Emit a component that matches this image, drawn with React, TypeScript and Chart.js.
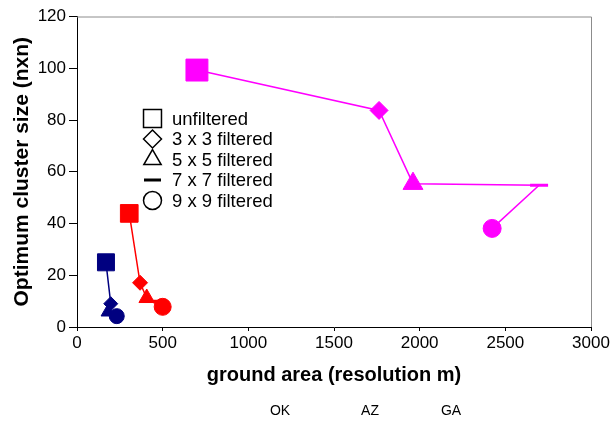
import React, { useEffect, useRef } from 'react';
import { Chart, registerables } from 'chart.js';
import { drawPoint } from 'chart.js/helpers';

Chart.register(...registerables);

// ---- data ----
const seriesNames = ['OK', 'AZ', 'GA'];
const seriesColors = ['#000080', '#FF0000', '#FF00FF'];
const filterLabels = ['unfiltered', '3 x 3 filtered', '5 x 5 filtered', '7 x 7 filtered', '9 x 9 filtered'];
const filterStyles = ['rect', 'rectRot', 'triangle', 'line', 'circle'];

const okX = [169, 197, 181, 205, 232];
const okY = [25, 9, 5.8, 5, 4.2];
const azX = [305, 368, 407, 430, 500];
const azY = [43.9, 17.1, 11.2, 10, 7.8];
const gaX = [700, 1763, 1961, 2697, 2423];
const gaY = [99.3, 83.7, 55.4, 54.8, 38.1];

const xTickValues = [0, 500, 1000, 1500, 2000, 2500, 3000];
const yTickValues = [0, 20, 40, 60, 80, 100, 120];

const xTitle = 'ground area (resolution m)';
const yTitle = 'Optimum cluster size (nxn)';

// marker sizes (style)
const okRadius = [12, 7, 8, 7, 7.5];
const azRadius = [12.5, 7.5, 9, 8, 8.5];
const gaRadius = [15.5, 9, 11.5, 9, 9];

const FONT = "'Liberation Sans', Arial, Helvetica, sans-serif";

function makeDataset(i: number, xs: number[], ys: number[], radii: number[]) {
  return {
    label: seriesNames[i],
    data: xs.map((x, k) => ({ x, y: ys[k] })),
    borderColor: seriesColors[i],
    backgroundColor: seriesColors[i],
    pointBackgroundColor: seriesColors[i],
    pointBorderColor: seriesColors[i],
    pointStyle: filterStyles as any,
    pointRadius: radii,
    pointHoverRadius: radii,
    pointBorderWidth: filterStyles.map((s) => (s === 'line' ? 3 : 1)),
    borderWidth: 1.5,
    showLine: true,
    tension: 0,
    fill: false,
  };
}

const decorPlugin = {
  id: 'decor',
  afterDraw(chart: any) {
    const { ctx, chartArea } = chart;
    const { top, right, left, bottom } = chartArea;
    ctx.save();
    // top / right frame
    ctx.strokeStyle = '#8c8c8c';
    ctx.lineWidth = 1;
    ctx.beginPath();
    ctx.moveTo(left, top + 0.5);
    ctx.lineTo(right + 0.5, top + 0.5);
    ctx.lineTo(right + 0.5, bottom);
    ctx.stroke();

    // in-plot legend for filter styles
    const mx = left + 75.5;
    const tx = left + 95;
    const y0 = top + 102;
    const dy = 20.5;
    const legendRadius = [12.7, 9, 10, 8.5, 9];
    ctx.font = `18.5px ${FONT}`;
    ctx.textBaseline = 'middle';
    ctx.textAlign = 'left';
    filterLabels.forEach((lab, i) => {
      const y = y0 + i * dy;
      ctx.fillStyle = '#ffffff';
      ctx.strokeStyle = '#000000';
      ctx.lineWidth = filterStyles[i] === 'line' ? 3 : 1.5;
      drawPoint(ctx, { pointStyle: filterStyles[i], radius: legendRadius[i], rotation: 0, borderWidth: ctx.lineWidth } as any, mx, y);
      ctx.fillStyle = '#000000';
      ctx.fillText(lab, tx, y + 1);
    });

    // series names below the axis title
    const nameX = [280, 370, 451];
    ctx.font = `14px ${FONT}`;
    ctx.textAlign = 'center';
    ctx.fillStyle = '#000000';
    seriesNames.forEach((n, i) => {
      ctx.fillText(n, nameX[i], 411);
    });
    ctx.restore();
  },
};

export default function App() {
  const ref = useRef<HTMLCanvasElement | null>(null);
  useEffect(() => {
    document.body.style.margin = '0';
    if (!ref.current) return;
    const chart = new Chart(ref.current, {
      type: 'scatter',
      data: {
        datasets: [
          makeDataset(0, okX, okY, okRadius),
          makeDataset(1, azX, azY, azRadius),
          makeDataset(2, gaX, gaY, gaRadius),
        ] as any,
      },
      options: {
        animation: false,
        responsive: true,
        maintainAspectRatio: false,
        layout: { padding: { left: 0, right: 21, top: 16, bottom: 30 } },
        plugins: {
          legend: { display: false },
          tooltip: { enabled: false },
        },
        scales: {
          x: {
            type: 'linear',
            min: 0,
            max: 3000,
            afterBuildTicks: (scale: any) => {
              scale.ticks = xTickValues.map((v) => ({ value: v }));
            },
            afterFit: (scale: any) => {
              scale.height = 64;
            },
            border: { display: true, color: '#000000', width: 1 },
            grid: { drawOnChartArea: false, drawTicks: true, tickLength: 4, color: '#000000' },
            ticks: {
              color: '#000000',
              padding: 2,
              maxRotation: 0,
              autoSkip: false,
              callback: (v: any) => String(v),
              font: { family: FONT, size: 17 },
            },
            title: {
              display: true,
              text: xTitle,
              color: '#000000',
              font: { family: FONT, size: 20, weight: 'bold' },
              padding: { top: 0, bottom: 4 },
            },
          },
          y: {
            type: 'linear',
            min: 0,
            max: 120,
            afterBuildTicks: (scale: any) => {
              scale.ticks = yTickValues.map((v) => ({ value: v }));
            },
            afterFit: (scale: any) => {
              scale.width = 77;
            },
            border: { display: true, color: '#000000', width: 1 },
            grid: { drawOnChartArea: false, drawTicks: true, tickLength: 8, color: '#000000' },
            ticks: {
              color: '#000000',
              padding: 3,
              callback: (v: any) => String(v),
              font: { family: FONT, size: 17 },
            },
            title: {
              display: true,
              text: yTitle,
              color: '#000000',
              font: { family: FONT, size: 21, weight: 'bold' },
              padding: { top: 10, bottom: 0 },
            },
          },
        },
      } as any,
      plugins: [decorPlugin],
    });
    return () => chart.destroy();
  }, []);
  return (
    <div style={{ width: 612, height: 421, position: 'relative' }}>
      <canvas ref={ref} />
    </div>
  );
}
